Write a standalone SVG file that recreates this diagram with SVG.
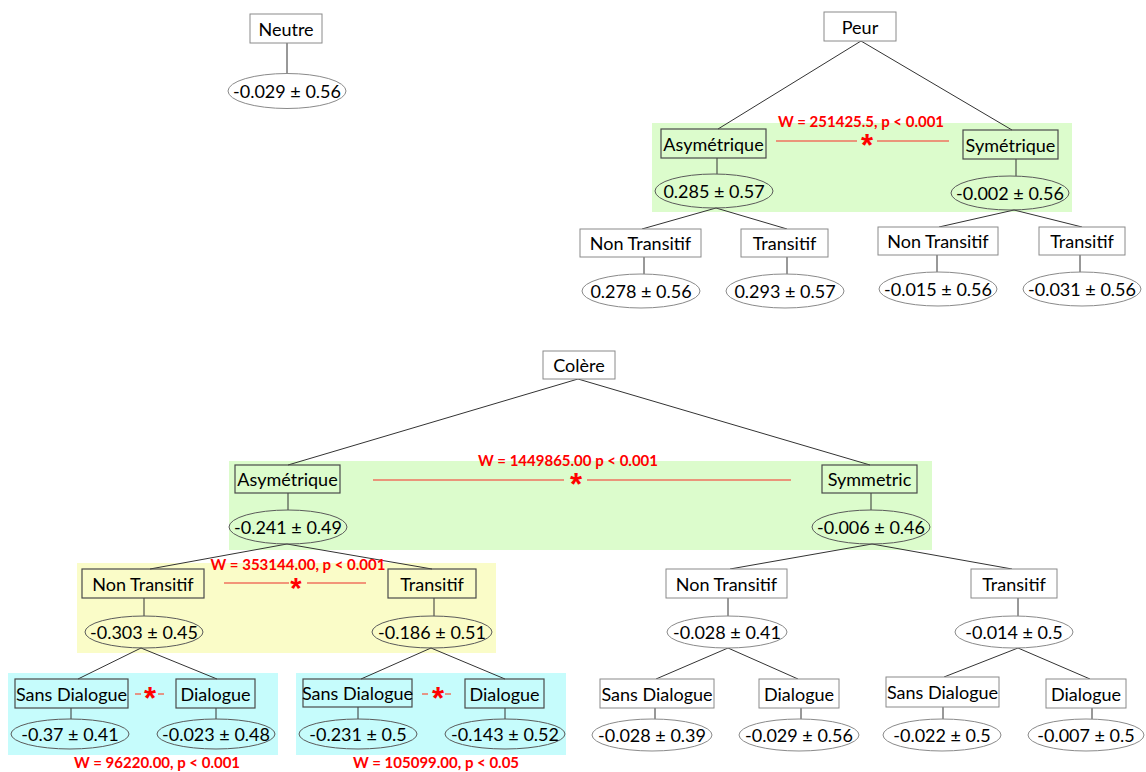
<svg xmlns="http://www.w3.org/2000/svg" width="1146" height="772" viewBox="0 0 1146 772">
<style>
.bg{stroke:none}
.g{fill:#dcfccc}.y{fill:#fafcc8}.c{fill:#c6fcfc}
.b{fill:#fff;stroke:#8a8a8a;stroke-width:1}
.bd{fill:none;stroke:#4a4a4a;stroke-width:1.2}
.e{fill:#fff;stroke:#8a8a8a;stroke-width:1}
.ed{fill:none;stroke:#5a5a5a;stroke-width:1}
.t{font-family:Lato,"Open Sans",sans-serif;font-size:18px;fill:#000;text-anchor:middle;dominant-baseline:central}
.w{font-family:Lato,"Liberation Sans",sans-serif;font-size:15px;font-weight:bold;fill:#ff0000;text-anchor:middle}
.a{font-family:"Liberation Sans",sans-serif;font-size:31px;font-weight:bold;fill:#ff0000;text-anchor:middle}
.rl{stroke:#ef735f;stroke-width:1.5;fill:none}
.cn{stroke:#333;stroke-width:1;fill:none}
</style>
<g id="regions">
<rect class="bg g" x="652" y="123" width="420" height="89"/>
<rect class="bg g" x="229" y="461" width="703" height="89"/>
<rect class="bg y" x="77" y="563" width="419" height="90"/>
<rect class="bg c" x="8" y="673" width="270" height="82"/>
<rect class="bg c" x="296" y="673" width="270" height="82"/>
</g>
<g id="connectors">
<line class="cn" x1="287" y1="43" x2="287" y2="74"/>
<line class="cn" x1="861" y1="41" x2="718" y2="129"/>
<line class="cn" x1="861" y1="41" x2="1012" y2="130"/>
<line class="cn" x1="717" y1="158" x2="717" y2="174"/>
<line class="cn" x1="1016" y1="159" x2="1016" y2="176"/>
<line class="cn" x1="716" y1="208" x2="642" y2="229"/>
<line class="cn" x1="716" y1="208" x2="787" y2="229"/>
<line class="cn" x1="644" y1="257" x2="644" y2="274"/>
<line class="cn" x1="787" y1="257" x2="787" y2="274"/>
<line class="cn" x1="1014" y1="210" x2="939" y2="227"/>
<line class="cn" x1="1014" y1="210" x2="1082" y2="227"/>
<line class="cn" x1="937" y1="255" x2="937" y2="272"/>
<line class="cn" x1="1080" y1="255" x2="1080" y2="272"/>
<line class="cn" x1="578" y1="379" x2="288" y2="465"/>
<line class="cn" x1="578" y1="379" x2="870" y2="465"/>
<line class="cn" x1="288" y1="493" x2="288" y2="510"/>
<line class="cn" x1="871" y1="493" x2="871" y2="510"/>
<line class="cn" x1="287" y1="544" x2="150" y2="569"/>
<line class="cn" x1="287" y1="544" x2="432" y2="569"/>
<line class="cn" x1="144" y1="598" x2="144" y2="616"/>
<line class="cn" x1="434" y1="598" x2="434" y2="616"/>
<line class="cn" x1="141" y1="648" x2="78" y2="679"/>
<line class="cn" x1="141" y1="648" x2="217" y2="679"/>
<line class="cn" x1="71" y1="708" x2="71" y2="719"/>
<line class="cn" x1="216" y1="708" x2="216" y2="719"/>
<line class="cn" x1="431" y1="648" x2="361" y2="679"/>
<line class="cn" x1="431" y1="648" x2="505" y2="679"/>
<line class="cn" x1="358" y1="707" x2="358" y2="719"/>
<line class="cn" x1="505" y1="708" x2="505" y2="719"/>
<line class="cn" x1="872" y1="544" x2="730" y2="569"/>
<line class="cn" x1="872" y1="544" x2="1012" y2="569"/>
<line class="cn" x1="728" y1="598" x2="728" y2="616"/>
<line class="cn" x1="1018" y1="598" x2="1018" y2="616"/>
<line class="cn" x1="728" y1="648" x2="656" y2="679"/>
<line class="cn" x1="728" y1="648" x2="798" y2="679"/>
<line class="cn" x1="655" y1="708" x2="655" y2="719"/>
<line class="cn" x1="801" y1="708" x2="801" y2="719"/>
<line class="cn" x1="1018" y1="648" x2="944" y2="677"/>
<line class="cn" x1="1018" y1="648" x2="1090" y2="679"/>
<line class="cn" x1="943" y1="707" x2="943" y2="719"/>
<line class="cn" x1="1092" y1="708" x2="1092" y2="719"/>
</g>
<g id="neutre"><rect class="b" x="250" y="14" width="72" height="29"/><text class="t" x="286" y="29">Neutre</text></g>
<g id="neutre-v"><ellipse class="e" cx="287" cy="91" rx="59" ry="17.5"/><text class="t" x="287" y="91">-0.029 ± 0.56</text></g>
<g id="peur"><rect class="b" x="824" y="12" width="72" height="29"/><text class="t" x="860" y="27">Peur</text></g>
<g id="peur-asym"><rect class="bd" x="661" y="129" width="105" height="29"/><text class="t" x="713.5" y="144">Asymétrique</text></g>
<g id="peur-asym-v"><ellipse class="ed" cx="714" cy="191" rx="59" ry="17"/><text class="t" x="714" y="191">0.285 ± 0.57</text></g>
<g id="peur-sym"><rect class="bd" x="963" y="130" width="95" height="29"/><text class="t" x="1010.5" y="145">Symétrique</text></g>
<g id="peur-sym-v"><ellipse class="ed" cx="1010" cy="193" rx="59" ry="17"/><text class="t" x="1010" y="193">-0.002 ± 0.56</text></g>
<g id="peur-asym-nt"><rect class="b" x="580" y="229" width="121" height="28"/><text class="t" x="640.5" y="243">Non Transitif</text></g>
<g id="peur-asym-nt-v"><ellipse class="e" cx="641" cy="291" rx="59" ry="17"/><text class="t" x="641" y="291">0.278 ± 0.56</text></g>
<g id="peur-asym-t"><rect class="b" x="741" y="229" width="87" height="28"/><text class="t" x="784.5" y="243">Transitif</text></g>
<g id="peur-asym-t-v"><ellipse class="e" cx="785" cy="291" rx="59" ry="17"/><text class="t" x="785" y="291">0.293 ± 0.57</text></g>
<g id="peur-sym-nt"><rect class="b" x="878" y="227" width="120" height="28"/><text class="t" x="938" y="241">Non Transitif</text></g>
<g id="peur-sym-nt-v"><ellipse class="e" cx="938" cy="289" rx="59" ry="17"/><text class="t" x="938" y="289">-0.015 ± 0.56</text></g>
<g id="peur-sym-t"><rect class="b" x="1039" y="227" width="86" height="28"/><text class="t" x="1082" y="241">Transitif</text></g>
<g id="peur-sym-t-v"><ellipse class="e" cx="1082" cy="289" rx="59" ry="17"/><text class="t" x="1082" y="289">-0.031 ± 0.56</text></g>
<g id="colere"><rect class="b" x="543" y="351" width="72" height="28"/><text class="t" x="579" y="365">Colère</text></g>
<g id="col-asym"><rect class="bd" x="235" y="465" width="105" height="28"/><text class="t" x="287.5" y="479">Asymétrique</text></g>
<g id="col-asym-v"><ellipse class="ed" cx="288" cy="527" rx="59" ry="17"/><text class="t" x="288" y="527">-0.241 ± 0.49</text></g>
<g id="col-sym"><rect class="bd" x="822" y="465" width="95" height="28"/><text class="t" x="869.5" y="479">Symmetric</text></g>
<g id="col-sym-v"><ellipse class="ed" cx="871" cy="527" rx="59" ry="17"/><text class="t" x="871" y="527">-0.006 ± 0.46</text></g>
<g id="col-asym-nt"><rect class="bd" x="82" y="569" width="122" height="29"/><text class="t" x="143" y="583.5">Non Transitif</text></g>
<g id="col-asym-nt-v"><ellipse class="ed" cx="144" cy="632" rx="59" ry="16"/><text class="t" x="144" y="632">-0.303 ± 0.45</text></g>
<g id="col-asym-t"><rect class="bd" x="388" y="569" width="88" height="29"/><text class="t" x="432" y="583.5">Transitif</text></g>
<g id="col-asym-t-v"><ellipse class="ed" cx="432" cy="632" rx="60" ry="16"/><text class="t" x="432" y="632">-0.186 ± 0.51</text></g>
<g id="col-sym-nt"><rect class="b" x="666" y="569" width="121" height="29"/><text class="t" x="726.5" y="583.5">Non Transitif</text></g>
<g id="col-sym-nt-v"><ellipse class="e" cx="727" cy="632" rx="60" ry="16"/><text class="t" x="727" y="632">-0.028 ± 0.41</text></g>
<g id="col-sym-t"><rect class="b" x="971" y="569" width="86" height="29"/><text class="t" x="1014" y="583.5">Transitif</text></g>
<g id="col-sym-t-v"><ellipse class="e" cx="1014" cy="632" rx="59" ry="16"/><text class="t" x="1014" y="632">-0.014 ± 0.5</text></g>
<g id="col-a-nt-sd"><rect class="bd" x="15" y="679" width="113" height="29"/><text class="t" x="71.5" y="693.5">Sans Dialogue</text></g>
<g id="col-a-nt-sd-v"><ellipse class="ed" cx="70" cy="734" rx="59" ry="15"/><text class="t" x="70" y="734">-0.37 ± 0.41</text></g>
<g id="col-a-nt-d"><rect class="bd" x="176" y="679" width="79" height="29"/><text class="t" x="215.5" y="693.5">Dialogue</text></g>
<g id="col-a-nt-d-v"><ellipse class="ed" cx="216" cy="734" rx="59" ry="15"/><text class="t" x="216" y="734">-0.023 ± 0.48</text></g>
<g id="col-a-t-sd"><rect class="bd" x="303" y="679" width="109" height="28"/><text class="t" x="357.5" y="693">Sans Dialogue</text></g>
<g id="col-a-t-sd-v"><ellipse class="ed" cx="358" cy="734" rx="59" ry="15"/><text class="t" x="358" y="734">-0.231 ± 0.5</text></g>
<g id="col-a-t-d"><rect class="bd" x="465" y="679" width="79" height="29"/><text class="t" x="504.5" y="693.5">Dialogue</text></g>
<g id="col-a-t-d-v"><ellipse class="ed" cx="505" cy="734" rx="60" ry="15"/><text class="t" x="505" y="734">-0.143 ± 0.52</text></g>
<g id="col-s-nt-sd"><rect class="b" x="600" y="679" width="114" height="29"/><text class="t" x="657" y="693.5">Sans Dialogue</text></g>
<g id="col-s-nt-sd-v"><ellipse class="e" cx="652" cy="735" rx="60" ry="16"/><text class="t" x="652" y="735">-0.028 ± 0.39</text></g>
<g id="col-s-nt-d"><rect class="b" x="759" y="679" width="80" height="29"/><text class="t" x="799" y="693.5">Dialogue</text></g>
<g id="col-s-nt-d-v"><ellipse class="e" cx="799" cy="735" rx="60" ry="16"/><text class="t" x="799" y="735">-0.029 ± 0.56</text></g>
<g id="col-s-t-sd"><rect class="b" x="886" y="677" width="113" height="30"/><text class="t" x="942.5" y="692">Sans Dialogue</text></g>
<g id="col-s-t-sd-v"><ellipse class="e" cx="942" cy="735" rx="59" ry="16"/><text class="t" x="942" y="735">-0.022 ± 0.5</text></g>
<g id="col-s-t-d"><rect class="b" x="1046" y="679" width="80" height="29"/><text class="t" x="1086" y="693.5">Dialogue</text></g>
<g id="col-s-t-d-v"><ellipse class="e" cx="1086" cy="735" rx="58" ry="16"/><text class="t" x="1086" y="735">-0.007 ± 0.5</text></g>
<g id="stats">
<text class="w" x="861" y="127">W = 251425.5, p &lt; 0.001</text>
<line class="rl" x1="776" y1="141" x2="857" y2="141"/><line class="rl" x1="877" y1="141" x2="949" y2="141"/>
<text class="a" x="867" y="156">*</text>
<text class="w" x="568" y="466">W = 1449865.00 p &lt; 0.001</text>
<line class="rl" x1="373" y1="480" x2="564" y2="480"/><line class="rl" x1="587" y1="480" x2="791" y2="480"/>
<text class="a" x="576" y="495">*</text>
<text class="w" x="298" y="570">W = 353144.00, p &lt; 0.001</text>
<line class="rl" x1="224" y1="583" x2="289" y2="583"/><line class="rl" x1="307" y1="583" x2="366" y2="583"/>
<text class="a" x="296" y="598" style="font-size:29px">*</text>
<line class="rl" x1="135" y1="694" x2="141" y2="694"/><line class="rl" x1="158" y1="694" x2="164" y2="694"/>
<text class="a" x="150" y="709">*</text>
<line class="rl" x1="422" y1="694" x2="428" y2="694"/><line class="rl" x1="445" y1="694" x2="451" y2="694"/>
<text class="a" x="438" y="709">*</text>
<text class="w" x="157" y="768">W = 96220.00, p &lt; 0.001</text>
<text class="w" x="436" y="768">W = 105099.00, p &lt; 0.05</text>
</g>
</svg>
